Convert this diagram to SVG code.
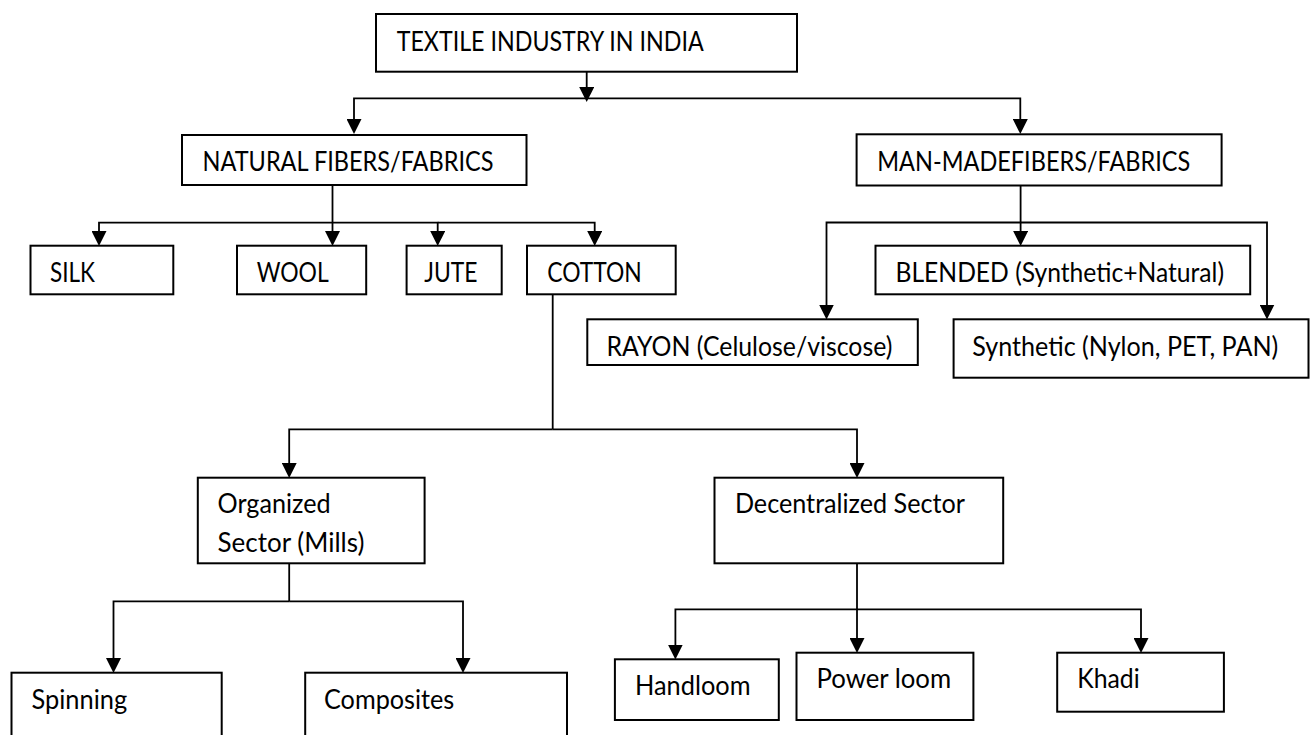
<svg xmlns="http://www.w3.org/2000/svg" width="1310" height="735" viewBox="0 0 1310 735">
<style>
.box{fill:#fff;stroke:#000;stroke-width:2}
.t{font-family:Lato,"Liberation Sans",sans-serif;font-size:27px;fill:#000}
.c{fill:none;stroke:#000;stroke-width:1.8}
</style>
<defs>
<marker id="ah" markerUnits="userSpaceOnUse" markerWidth="15" markerHeight="15" viewBox="0 0 15 15" refX="6" refY="7.5" orient="auto">
<path d="M0,0 L15,7.5 L0,15 z" fill="#000"/>
</marker>
</defs>
<rect width="1310" height="735" fill="#fff"/>
<g id="connectors">
<path class="c" d="M586.7,72 V93" marker-end="url(#ah)"/>
<path class="c" d="M586.7,98.3 H354 V125" marker-end="url(#ah)"/>
<path class="c" d="M586.7,98.3 H1020.3 V125" marker-end="url(#ah)"/>
<path class="c" d="M332.5,185 V237" marker-end="url(#ah)"/>
<path class="c" d="M332.5,222.7 H99 V237" marker-end="url(#ah)"/>
<path class="c" d="M332.5,222.7 H437.7 V237" marker-end="url(#ah)"/>
<path class="c" d="M437.7,222.7 H594.7 V237" marker-end="url(#ah)"/>
<path class="c" d="M1020.6,185.5 V237" marker-end="url(#ah)"/>
<path class="c" d="M1020.6,222.5 H826.5 V310.5" marker-end="url(#ah)"/>
<path class="c" d="M1020.6,222.5 H1267 V310.5" marker-end="url(#ah)"/>
<path class="c" d="M552.7,294.3 V429.3"/>
<path class="c" d="M552.7,429.3 H289.2 V469" marker-end="url(#ah)"/>
<path class="c" d="M552.7,429.3 H857 V469" marker-end="url(#ah)"/>
<path class="c" d="M289.2,563.3 V601.3"/>
<path class="c" d="M289.2,601.3 H113.5 V664" marker-end="url(#ah)"/>
<path class="c" d="M289.2,601.3 H463 V664" marker-end="url(#ah)"/>
<path class="c" d="M857,563.3 V644" marker-end="url(#ah)"/>
<path class="c" d="M857,609.3 H675.4 V650.5" marker-end="url(#ah)"/>
<path class="c" d="M857,609.3 H1141 V644" marker-end="url(#ah)"/>
</g>
<g id="textile"><rect class="box" x="376" y="14" width="421" height="57.7"/><text class="t" x="396.7" y="50.5" textLength="307" lengthAdjust="spacingAndGlyphs">TEXTILE INDUSTRY IN INDIA</text></g>
<g id="natural"><rect class="box" x="182" y="135" width="344.5" height="50"/><text class="t" x="202.5" y="170.5" textLength="291" lengthAdjust="spacingAndGlyphs">NATURAL FIBERS/FABRICS</text></g>
<g id="manmade"><rect class="box" x="856.6" y="134.3" width="365" height="51.2"/><text class="t" x="877.3" y="171" textLength="313" lengthAdjust="spacingAndGlyphs">MAN-MADEFIBERS/FABRICS</text></g>
<g id="silk"><rect class="box" x="30.5" y="245.7" width="142.8" height="48.6"/><text class="t" x="50" y="281.7" textLength="45" lengthAdjust="spacingAndGlyphs">SILK</text></g>
<g id="wool"><rect class="box" x="237" y="245.7" width="129.2" height="48.6"/><text class="t" x="256.7" y="281.7" textLength="72" lengthAdjust="spacingAndGlyphs">WOOL</text></g>
<g id="jute"><rect class="box" x="406.6" y="245.7" width="95.1" height="48.6"/><text class="t" x="424.3" y="281.7" textLength="53.3" lengthAdjust="spacingAndGlyphs">JUTE</text></g>
<g id="cotton"><rect class="box" x="527" y="245.7" width="148.7" height="48.6"/><text class="t" x="547.2" y="281.7" textLength="94.5" lengthAdjust="spacingAndGlyphs">COTTON</text></g>
<g id="blended"><rect class="box" x="875.5" y="245.7" width="374.7" height="48.6"/><text class="t" x="895.5" y="282" textLength="328.5" lengthAdjust="spacingAndGlyphs">BLENDED (Synthetic+Natural)</text></g>
<g id="rayon"><rect class="box" x="587.3" y="319.3" width="330.5" height="45.7"/><text class="t" x="606.4" y="355.5" textLength="286" lengthAdjust="spacingAndGlyphs">RAYON (Celulose/viscose)</text></g>
<g id="synthetic"><rect class="box" x="953.6" y="319.3" width="354.9" height="58.4"/><text class="t" x="972.3" y="355.5" textLength="306" lengthAdjust="spacingAndGlyphs">Synthetic (Nylon, PET, PAN)</text></g>
<g id="organized"><rect class="box" x="197.8" y="477.7" width="226.8" height="85.6"/><text class="t" x="217.6" y="513.3" textLength="113" lengthAdjust="spacingAndGlyphs">Organized</text><text class="t" x="217.6" y="552.3" textLength="146.8" lengthAdjust="spacingAndGlyphs">Sector (Mills)</text></g>
<g id="decentralized"><rect class="box" x="714.5" y="477.7" width="288.7" height="85.6"/><text class="t" x="734.9" y="513.3" textLength="230" lengthAdjust="spacingAndGlyphs">Decentralized Sector</text></g>
<g id="spinning"><rect class="box" x="11.5" y="672.7" width="210.2" height="90"/><text class="t" x="31.5" y="709" textLength="95.6" lengthAdjust="spacingAndGlyphs">Spinning</text></g>
<g id="composites"><rect class="box" x="305.2" y="672.7" width="261.8" height="90"/><text class="t" x="324" y="709" textLength="130.3" lengthAdjust="spacingAndGlyphs">Composites</text></g>
<g id="handloom"><rect class="box" x="614.9" y="659.3" width="163.9" height="60.7"/><text class="t" x="635" y="695" textLength="115.5" lengthAdjust="spacingAndGlyphs">Handloom</text></g>
<g id="powerloom"><rect class="box" x="796.5" y="652.7" width="176.9" height="67.3"/><text class="t" x="816.5" y="688.3" textLength="134.6" lengthAdjust="spacingAndGlyphs">Power loom</text></g>
<g id="khadi"><rect class="box" x="1057.2" y="652.7" width="166.7" height="59"/><text class="t" x="1077.3" y="688.3" textLength="62.4" lengthAdjust="spacingAndGlyphs">Khadi</text></g>
</svg>
